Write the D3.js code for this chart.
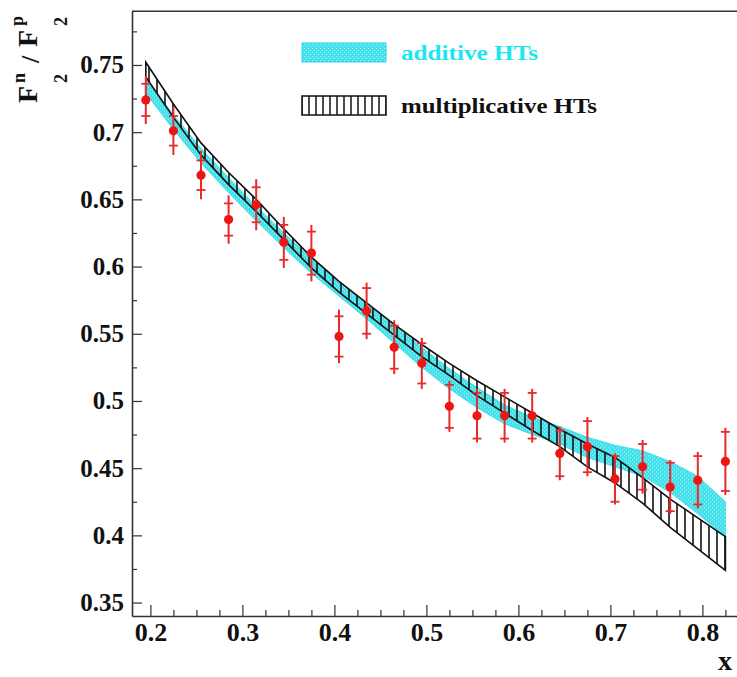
<!DOCTYPE html>
<html>
<head>
<meta charset="utf-8">
<script src="https://cdn.jsdelivr.net/npm/d3@7"></script>
<style>
  body { margin: 0; background: #fff; }
  svg { display: block; font-family: "Liberation Serif", "DejaVu Serif", serif; font-weight: bold; }
</style>
</head>
<body>
<div id="chart"></div>
<script>
// measured points: x, F2n/F2p, stat error (crossbar), total error (line)
const xVals = [0.195, 0.225, 0.255, 0.285, 0.315, 0.345, 0.375, 0.405, 0.435, 0.465, 0.495,
               0.525, 0.555, 0.585, 0.615, 0.645, 0.675, 0.705, 0.735, 0.765, 0.795, 0.825];
const ratio = [0.724, 0.701, 0.668, 0.635, 0.646, 0.618, 0.610, 0.548, 0.567, 0.540, 0.528,
               0.496, 0.489, 0.489, 0.489, 0.461, 0.466, 0.442, 0.451, 0.436, 0.441, 0.455];
const statErr = [0.012, 0.011, 0.011, 0.012, 0.013, 0.013, 0.016, 0.015, 0.017, 0.016, 0.015,
                 0.016, 0.017, 0.017, 0.017, 0.017, 0.019, 0.017, 0.017, 0.018, 0.018, 0.022];
const totErr = [0.018, 0.018, 0.018, 0.018, 0.019, 0.019, 0.021, 0.020, 0.021, 0.020, 0.019,
                0.019, 0.020, 0.020, 0.020, 0.020, 0.022, 0.019, 0.020, 0.020, 0.021, 0.025];

// additive HTs band
const addLo = [0.729, 0.702, 0.677, 0.655, 0.634, 0.614, 0.595, 0.578, 0.561, 0.543, 0.525,
               0.509, 0.495, 0.483, 0.475, 0.468, 0.458, 0.451, 0.444, 0.432, 0.416, 0.399];
const addHi = [0.740, 0.713, 0.688, 0.666, 0.645, 0.625, 0.606, 0.589, 0.572, 0.556, 0.540,
               0.524, 0.510, 0.497, 0.488, 0.481, 0.473, 0.467, 0.463, 0.455, 0.444, 0.425];
// multiplicative HTs band
const mulLo = [0.741, 0.711, 0.683, 0.661, 0.641, 0.620, 0.599, 0.581, 0.565, 0.549, 0.533,
               0.519, 0.504, 0.491, 0.478, 0.466, 0.451, 0.439, 0.424, 0.406, 0.390, 0.374];
const mulHi = [0.752, 0.721, 0.692, 0.670, 0.650, 0.628, 0.607, 0.589, 0.573, 0.557, 0.542,
               0.528, 0.515, 0.503, 0.491, 0.479, 0.468, 0.458, 0.443, 0.427, 0.413, 0.399];

const xTicks = [0.2, 0.3, 0.4, 0.5, 0.6, 0.7, 0.8];
const yTicks = [0.35, 0.4, 0.45, 0.5, 0.55, 0.6, 0.65, 0.7, 0.75];
const xMinor = d3.range(0, 27).map(i => 0.2 + i * 0.025);
const yMinor = d3.range(0, 18).map(i => 0.35 + i * 0.025);

const W = 737, H = 677;
const margin = { top: 11.2, left: 132 };
const width = 616.4, height = 604.8;

const svg = d3.select('#chart').append('svg')
    .attr('width', W).attr('height', H);

const defs = svg.append('defs');
// vertical hatch for the multiplicative band
const hatch = defs.append('pattern').attr('id', 'vhatch')
    .attr('patternUnits', 'userSpaceOnUse').attr('width', 8).attr('height', 10);
hatch.append('line').attr('x1', 1).attr('x2', 1).attr('y1', 0).attr('y2', 10)
    .attr('stroke', '#111').attr('stroke-width', 1.6);
const hatch2 = defs.append('pattern').attr('id', 'vhatch2')
    .attr('patternUnits', 'userSpaceOnUse').attr('width', 7).attr('height', 10);
hatch2.append('line').attr('x1', 1).attr('x2', 1).attr('y1', 0).attr('y2', 10)
    .attr('stroke', '#111').attr('stroke-width', 1.5);
// dotted cyan fill
const dots = defs.append('pattern').attr('id', 'cyandots')
    .attr('patternUnits', 'userSpaceOnUse').attr('width', 4).attr('height', 4);
dots.append('rect').attr('width', 4).attr('height', 4).attr('fill', '#45e1ea');
dots.append('rect').attr('x', 0).attr('y', 0).attr('width', 1).attr('height', 1).attr('fill', '#a8f5f8');
dots.append('rect').attr('x', 2).attr('y', 2).attr('width', 1).attr('height', 1).attr('fill', '#a8f5f8');

const g = svg.append('g')
    .attr('transform', 'translate(' + margin.left + ',' + margin.top + ')');

const x = d3.scaleLinear().domain([0.18, 0.85]).range([0, width]);
const y = d3.scaleLinear().domain([0.34, 0.79]).range([height, 0]);

const idx = d3.range(xVals.length);

// bands
const addArea = d3.area()
    .x(i => x(xVals[i])).y0(i => y(addLo[i])).y1(i => y(addHi[i]));
const mulArea = d3.area()
    .x(i => x(xVals[i])).y0(i => y(mulLo[i])).y1(i => y(mulHi[i]));

g.append('path').datum(idx)
    .attr('d', addArea)
    .attr('fill', 'url(#cyandots)')
    .attr('stroke', '#2bd9e2').attr('stroke-width', 0.8);

g.append('path').datum(idx)
    .attr('d', mulArea)
    .attr('fill', 'url(#vhatch)')
    .attr('stroke', '#111').attr('stroke-width', 1.6);

// error bars
const pts = g.append('g');
idx.forEach(i => {
    const cx = x(xVals[i]);
    pts.append('line')
        .attr('x1', cx).attr('x2', cx)
        .attr('y1', y(ratio[i] - totErr[i])).attr('y2', y(ratio[i] + totErr[i]))
        .attr('stroke', '#e82a2a').attr('stroke-width', 2);
    [-1, 1].forEach(s => {
        pts.append('line')
            .attr('x1', cx - 4.5).attr('x2', cx + 4.5)
            .attr('y1', y(ratio[i] + s * statErr[i])).attr('y2', y(ratio[i] + s * statErr[i]))
            .attr('stroke', '#e82a2a').attr('stroke-width', 1.8);
    });
});
pts.selectAll('circle')
    .data(idx)
    .enter().append('circle')
    .attr('cx', i => x(xVals[i]))
    .attr('cy', i => y(ratio[i]))
    .attr('r', 4.6)
    .attr('fill', '#f01414');

// axes (ticks pointing inside, ROOT style)
const axisStroke = '#333';
const yAxis = g.append('g')
    .call(d3.axisLeft(y).tickValues(yTicks).tickSizeInner(-10).tickSizeOuter(0)
        .tickPadding(8).tickFormat(d3.format('~g')));
g.append('g')
    .call(d3.axisLeft(y).tickValues(yMinor.filter(v => !yTicks.some(t => Math.abs(t - v) < 1e-6)))
        .tickSizeInner(-5).tickSizeOuter(0).tickFormat(''))
    .select('.domain').remove();

const xAxis = g.append('g')
    .attr('transform', 'translate(0,' + height + ')')
    .call(d3.axisBottom(x).tickValues(xTicks).tickSizeInner(-11).tickSizeOuter(0)
        .tickPadding(7).tickFormat(d3.format('~g')));
g.append('g')
    .attr('transform', 'translate(0,' + height + ')')
    .call(d3.axisBottom(x).tickValues(xMinor.filter(v => !xTicks.some(t => Math.abs(t - v) < 1e-6)))
        .tickSizeInner(-6).tickSizeOuter(0).tickFormat(''))
    .select('.domain').remove();

g.selectAll('.domain').attr('stroke', axisStroke).attr('stroke-width', 1.6);
g.selectAll('.tick line').attr('stroke', axisStroke).attr('stroke-width', 1.2);
yAxis.selectAll('text')
    .attr('font-family', 'Liberation Serif').attr('font-weight', 'bold')
    .attr('font-size', 25).attr('fill', '#111');
xAxis.selectAll('text')
    .attr('font-family', 'Liberation Serif').attr('font-weight', 'bold')
    .attr('font-size', 26).attr('fill', '#111');

// top frame line
g.append('line')
    .attr('x1', 0).attr('x2', width).attr('y1', 0).attr('y2', 0)
    .attr('stroke', axisStroke).attr('stroke-width', 1.6);

// axis titles
svg.append('text')
    .attr('x', 718).attr('y', 670)
    .attr('font-size', 28).attr('fill', '#111')
    .text('x');

const yt = svg.append('g').attr('transform', 'translate(37,103) rotate(-90)')
    .attr('fill', '#111');
yt.append('text').attr('x', 0).attr('y', 0).attr('font-size', 28).text('F');
yt.append('text').attr('x', 20).attr('y', -12).attr('font-size', 18).text('n');
yt.append('text').attr('x', 20).attr('y', 30).attr('font-size', 18).text('2');
yt.append('text').attr('x', 40).attr('y', 2).attr('font-size', 26).text('/');
yt.append('text').attr('x', 56).attr('y', 0).attr('font-size', 28).text('F');
yt.append('text').attr('x', 77).attr('y', -14).attr('font-size', 18).text('p');
yt.append('text').attr('x', 77).attr('y', 30).attr('font-size', 18).text('2');

// legend
const legend = svg.append('g');
legend.append('rect')
    .attr('x', 302).attr('y', 43).attr('width', 84).attr('height', 19)
    .attr('fill', 'url(#cyandots)').attr('stroke', '#2bd9e2').attr('stroke-width', 1);
legend.append('text')
    .attr('x', 401).attr('y', 60)
    .attr('font-size', 22).attr('fill', '#1ee6ee')
    .attr('textLength', 137).attr('lengthAdjust', 'spacingAndGlyphs')
    .text('additive HTs');
legend.append('rect')
    .attr('x', 302).attr('y', 96).attr('width', 84).attr('height', 19)
    .attr('fill', 'url(#vhatch2)').attr('stroke', '#111').attr('stroke-width', 1.5);
legend.append('text')
    .attr('x', 401).attr('y', 113)
    .attr('font-size', 22).attr('fill', '#111')
    .attr('textLength', 196).attr('lengthAdjust', 'spacingAndGlyphs')
    .text('multiplicative HTs');
</script>
</body>
</html>
